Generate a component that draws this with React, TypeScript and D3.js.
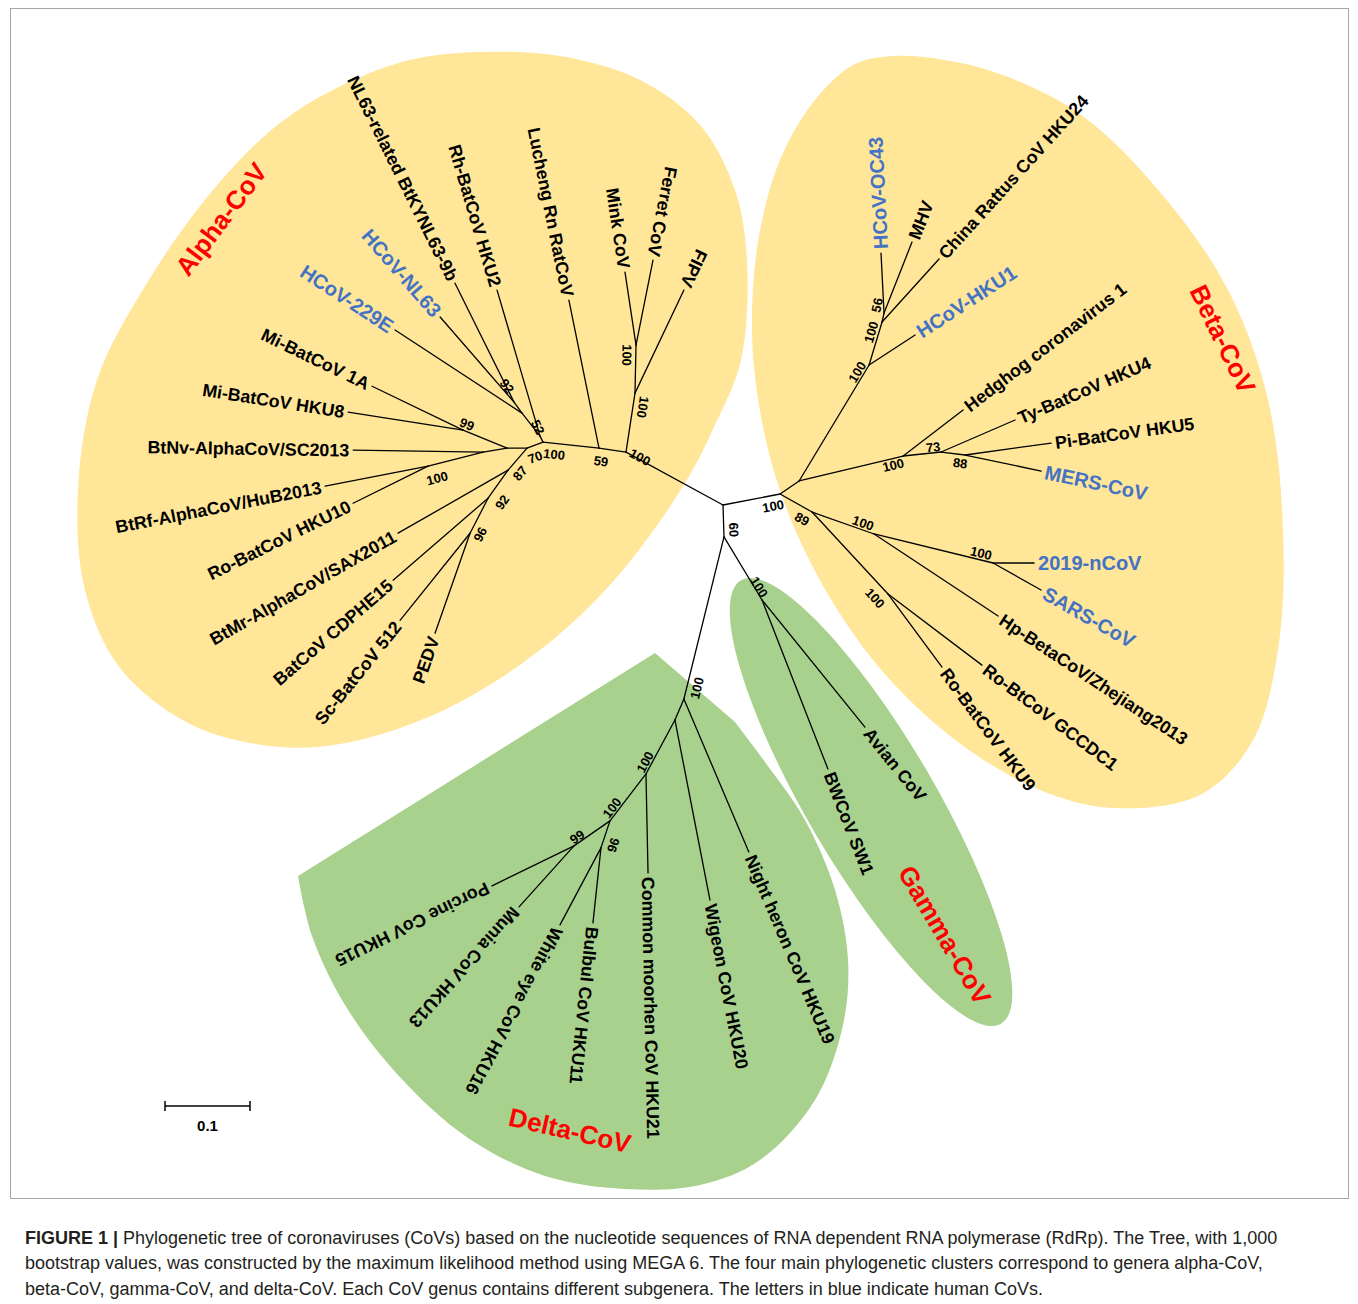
import React from "react";
import * as d3 from "d3";

// Unrooted tree: [node, parent, branch length (subst./site), branch angle (deg, screen)]
// Tip nodes carry the taxon name as id.
const branches: [string, string, number, number][] = [
  ["A1", "C1", 0.13, -151.4],
  ["F1", "A1", 0.0702, -81.3],
  ["FIPV", "F1", 0.1342, -64.6],
  ["F2", "F1", 0.0565, -88.8],
  ["Ferret CoV", "F2", 0.102, -78.7],
  ["Mink CoV", "F2", 0.0868, -98.6],
  ["N59", "A1", 0.0321, -171.6],
  ["Lucheng Rn RatCoV", "N59", 0.1776, -101.5],
  ["N100a", "N59", 0.0662, -173.9],
  ["N52", "N100a", 0.0079, -116.6],
  ["Rh-BatCoV HKU2", "N52", 0.1791, -106.4],
  ["Nx", "N52", 0.0344, -128.0],
  ["HCoV-229E", "Nx", 0.1785, -146.8],
  ["N92", "Nx", 0.016, -126],
  ["HCoV-NL63", "N92", 0.1326, -131],
  ["NL63-related BtKYNL63-9b", "N92", 0.1562, -116.4],
  ["N70", "N100a", 0.0201, 159.4],
  ["Nleft", "N70", 0.0235, 180],
  ["N99", "Nleft", 0.0559, -157.8],
  ["Mi-BatCoV 1A", "N99", 0.1189, -154.2],
  ["Mi-BatCoV HKU8", "N99", 0.1369, -171.1],
  ["Nnv", "Nleft", 0.0286, 170.5],
  ["BtNv-AlphaCoV/SC2013", "Nnv", 0.1529, -179.1],
  ["N100c", "Nnv", 0.0668, 165.7],
  ["BtRf-AlphaCoV/HuB2013", "N100c", 0.1234, 169.0],
  ["Ro-BatCoV HKU10", "N100c", 0.0984, 153.7],
  ["N87", "N70", 0.0342, 130.8],
  ["BtMr-AlphaCoV/SAX2011", "N87", 0.1492, 150.2],
  ["N92b", "N87", 0.0405, 125.5],
  ["BatCoV CDPHE15", "N92b", 0.1476, 139.2],
  ["N96", "N92b", 0.0464, 117.2],
  ["Sc-BatCoV 512", "N96", 0.1314, 128.8],
  ["PEDV", "N96", 0.1246, 109.3],

  ["B0", "C1", 0.0684, -10.9],
  ["B1", "B0", 0.0271, -34.4],
  ["Bup", "B1", 0.1594, -58.9],
  ["HCoV-HKU1", "Bup", 0.0646, -33.1],
  ["B100d", "Bup", 0.0528, -73.2],
  ["China Rattus CoV HKU24", "B100d", 0.1, -47.9],
  ["B56", "B100d", 0.0108, -77.5],
  ["HCoV-OC43", "B56", 0.0707, -92.9],
  ["MHV", "B56", 0.0898, -68.5],
  ["Bm", "B1", 0.1259, -13.5],
  ["Hedghog coronavirus 1", "Bm", 0.0889, -37.5],
  ["B73", "Bm", 0.0449, -6],
  ["Ty-BatCoV HKU4", "B73", 0.0948, -23.4],
  ["B88", "B73", 0.0285, 7.1],
  ["Pi-BatCoV HKU5", "B88", 0.1021, -7.9],
  ["MERS-CoV", "B88", 0.0914, 11.9],
  ["B89", "B0", 0.0432, 29.4],
  ["B100s", "B89", 0.0774, 19.5],
  ["Hp-BetaCoV/Zhejiang2013", "B100s", 0.1749, 33.5],
  ["B100n", "B100s", 0.1441, 13.7],
  ["2019-nCoV", "B100n", 0.0482, 0],
  ["SARS-CoV", "B100n", 0.0648, 29.4],
  ["B100r", "B89", 0.1315, 47.2],
  ["Ro-BtCoV GCCDC1", "B100r", 0.1386, 37.1],
  ["Ro-BatCoV HKU9", "B100r", 0.1068, 53.5],

  ["N60", "C1", 0.0376, 88.2],
  ["G0", "N60", 0.0866, 58.9],
  ["Avian CoV", "G0", 0.1924, 51],
  ["BWCoV SW1", "G0", 0.2134, 68.7],
  ["D0", "N60", 0.1964, 103.9],
  ["Night heron CoV HKU19", "D0", 0.1955, 67],
  ["D1", "D0", 0.0268, 113.2],
  ["Wigeon CoV HKU20", "D1", 0.2158, 79],
  ["D2", "D1", 0.0721, 118.2],
  ["Common moorhen CoV HKU21", "D2", 0.1165, 88.8],
  ["D3", "D2", 0.0696, 127.5],
  ["D99", "D3", 0.0515, 145.2],
  ["Porcine CoV HKU15", "D99", 0.1073, 154],
  ["Munia CoV HKU13", "D99", 0.0966, 132],
  ["D96", "D3", 0.0335, 108.4],
  ["White eye CoV HKU16", "D96", 0.1026, 118],
  ["Bulbul CoV HKU11", "D96", 0.0887, 96.1],
];

const humanCoVs = [
  "HCoV-229E",
  "HCoV-NL63",
  "HCoV-OC43",
  "HCoV-HKU1",
  "MERS-CoV",
  "2019-nCoV",
  "SARS-CoV",
];

// bootstrap support (1,000 replicates), by node
const bootstrap: [string, number][] = [
  ["A1", 100], ["F1", 100], ["F2", 100], ["N59", 59], ["N100a", 100],
  ["N52", 52], ["N92", 92], ["N70", 70], ["N99", 99], ["N100c", 100],
  ["N87", 87], ["N92b", 92], ["N96", 96],
  ["B0", 100], ["Bup", 100], ["B100d", 100], ["B56", 56], ["Bm", 100],
  ["B73", 73], ["B88", 88], ["B89", 89], ["B100s", 100], ["B100n", 100],
  ["B100r", 100],
  ["N60", 60], ["G0", 100],
  ["D0", 100], ["D2", 100], ["D3", 100], ["D99", 99], ["D96", 96],
];

const genera = ["Alpha-CoV", "Beta-CoV", "Gamma-CoV", "Delta-CoV"];
const scaleBarValue = 0.1;

const captionLines = [
  "Phylogenetic tree of coronaviruses (CoVs) based on the nucleotide sequences of RNA dependent RNA polymerase (RdRp). The Tree, with 1,000",
  "bootstrap values, was constructed by the maximum likelihood method using MEGA 6. The four main phylogenetic clusters correspond to genera alpha-CoV,",
  "beta-CoV, gamma-CoV, and delta-CoV. Each CoV genus contains different subgenera. The letters in blue indicate human CoVs.",
];

// ---- layout (pixels) ----
const W = 1358;
const H = 1304;
const ROOT_PX: [number, number] = [723, 505];
const PX_PER_TENTH = 85;
const FONT = "'Liberation Sans', Arial, Helvetica, sans-serif";
const YELLOW = "#FFE699";
const GREEN = "#A9D18E";
const BLUE = "#4472C4";
const RED = "#FF0000";

// label offsets (px) of bootstrap values from their node
const bootOffset: Record<string, [number, number]> = {
  A1: [14, 5], F1: [8, 14], F2: [-9, 10], N59: [2, 13], N100a: [11, 12],
  N52: [-2, -9], N92: [-7, -16], N70: [8, 9], N99: [4, -6], N100c: [9, 12],
  N87: [12, 3], N92b: [14, 4], N96: [10, 1],
  B0: [-7, 12], Bup: [-12, 7], B100d: [-11, 10], B56: [-7, -8], Bm: [-10, 9],
  B73: [-8, -5], B88: [-5, 8], B89: [-10, 7], B100s: [-11, -11],
  B100n: [-12, -10], B100r: [-13, 4],
  N60: [10, -7], G0: [-3, -13],
  D0: [13, -11], D2: [-1, -12], D3: [2, -13], D99: [3, -9], D96: [12, -3],
};

const genusLabel: Record<string, { x: number; y: number; r: number }> = {
  "Alpha-CoV": { x: 221, y: 219, r: -53 },
  "Beta-CoV": { x: 1223, y: 339, r: 64 },
  "Gamma-CoV": { x: 945, y: 935, r: 59.5 },
  "Delta-CoV": { x: 570, y: 1130, r: 13 },
};

const alphaOutline: [number, number][] = [
  [97, 380], [147, 283], [213, 190], [280, 123], [347, 83], [410, 60],
  [480, 52], [560, 56], [640, 80], [700, 125], [735, 190], [747, 262],
  [741, 360], [714, 427], [685, 483], [617, 577], [540, 650], [440, 712],
  [340, 744], [270, 746], [190, 724], [120, 668], [85, 590], [78, 490],
];

const betaOutline: [number, number][] = [
  [855, 64], [895, 56], [945, 60], [1000, 74], [1080, 114], [1160, 192],
  [1228, 290], [1268, 400], [1283, 530], [1278, 650], [1252, 742],
  [1200, 795], [1112, 808], [1040, 790], [962, 745], [892, 682], [842, 617],
  [802, 545], [776, 478], [759, 405], [752, 330], [758, 242], [780, 160],
  [815, 100],
];

const deltaApex: [number, number] = [655, 653];
const deltaOutline: [number, number][] = [
  [298, 876], [312, 936], [345, 1005], [398, 1075], [468, 1138], [545, 1176],
  [625, 1189], [700, 1185], [760, 1160], [815, 1100], [843, 1025],
  [848, 960], [835, 890], [805, 820], [765, 762], [735, 722],
];

const gammaEllipse = { cx: 871, cy: 802, rx: 257, ry: 64, r: 59.6 };

const norm90 = (a: number) => {
  while (a > 90) a -= 180;
  while (a <= -90) a += 180;
  return a;
};

export default function App() {
  const x = d3.scaleLinear().domain([0, scaleBarValue]).range([ROOT_PX[0], ROOT_PX[0] + PX_PER_TENTH]);
  const y = d3.scaleLinear().domain([0, scaleBarValue]).range([ROOT_PX[1], ROOT_PX[1] + PX_PER_TENTH]);

  const nodes: Record<string, { x: number; y: number; ang: number; parent?: string }> = {
    C1: { x: 0, y: 0, ang: 0 },
  };
  branches.forEach(([id, par, len, ang]) => {
    const p = nodes[par];
    const r = (ang * Math.PI) / 180;
    nodes[id] = { x: p.x + len * Math.cos(r), y: p.y + len * Math.sin(r), ang, parent: par };
  });
  const parents = new Set(branches.map((b) => b[1]));
  const inAlpha = (id: string) => {
    let cur: string | undefined = id;
    while (cur) {
      if (cur === "A1") return true;
      cur = nodes[cur].parent;
    }
    return false;
  };

  const closed = d3.line().curve(d3.curveCatmullRomClosed.alpha(0.5));
  const open = d3.line().curve(d3.curveCatmullRom.alpha(0.5));
  const deltaPath =
    `M${deltaApex[0]},${deltaApex[1]}` + (open(deltaOutline) || "").replace(/^M/, "L") + "Z";

  const tips = branches.filter((b) => !parents.has(b[0]));
  const barLen = x(scaleBarValue) - x(0);
  const bx = 165;
  const barY = 1106;

  return (
    <div style={{ position: "absolute", left: 0, top: 0 }}>
      <svg width={W} height={H} style={{ display: "block", background: "#fff" }} fontFamily={FONT}>
        <rect x={10.5} y={8.5} width={1338} height={1190} fill="none" stroke="#a6a6a6" strokeWidth={1} />

        <path d={closed(alphaOutline) || ""} fill={YELLOW} />
        <path d={closed(betaOutline) || ""} fill={YELLOW} />
        <path d={deltaPath} fill={GREEN} />
        <ellipse
          cx={gammaEllipse.cx}
          cy={gammaEllipse.cy}
          rx={gammaEllipse.rx}
          ry={gammaEllipse.ry}
          transform={`rotate(${gammaEllipse.r},${gammaEllipse.cx},${gammaEllipse.cy})`}
          fill={GREEN}
        />

        <g stroke="#000" strokeWidth={1.3} strokeLinecap="round">
          {branches.map(([id, par]) => (
            <line
              key={id}
              x1={x(nodes[par].x)}
              y1={y(nodes[par].y)}
              x2={x(nodes[id].x)}
              y2={y(nodes[id].y)}
            />
          ))}
        </g>

        <g fontWeight="bold">
          {tips.map(([id, , , ang]) => {
            const n = nodes[id];
            const r = (ang * Math.PI) / 180;
            const gap = 4;
            const px = x(n.x) + gap * Math.cos(r);
            const py = y(n.y) + gap * Math.sin(r);
            const inward = inAlpha(id);
            const human = humanCoVs.includes(id);
            return (
              <text
                key={id}
                transform={`translate(${px},${py}) rotate(${inward ? ang + 180 : ang})`}
                textAnchor={inward ? "end" : "start"}
                dy="0.36em"
                fontSize={human ? 20 : 17.8}
                fill={human ? BLUE : "#000"}
              >
                {id}
              </text>
            );
          })}
        </g>

        <g fontWeight="bold" fontSize={13} fill="#000">
          {bootstrap.map(([id, v]) => {
            const n = nodes[id];
            const off = bootOffset[id] || [0, 0];
            const rot = inAlpha(id) ? n.ang + 180 : norm90(n.ang);
            return (
              <text
                key={id}
                transform={`translate(${x(n.x) + off[0]},${y(n.y) + off[1]}) rotate(${rot})`}
                textAnchor="middle"
                dy="0.36em"
              >
                {v}
              </text>
            );
          })}
        </g>

        <g fontWeight="bold" fontSize={26} fill={RED}>
          {genera.map((g) => {
            const l = genusLabel[g];
            return (
              <text key={g} transform={`translate(${l.x},${l.y}) rotate(${l.r})`} textAnchor="middle" dy="0.36em">
                {g}
              </text>
            );
          })}
        </g>

        <g stroke="#000" strokeWidth={1.5}>
          <line x1={bx} x2={bx + barLen} y1={barY} y2={barY} />
          <line x1={bx} x2={bx} y1={barY - 5} y2={barY + 5} />
          <line x1={bx + barLen} x2={bx + barLen} y1={barY - 5} y2={barY + 5} />
        </g>
        <text x={bx + barLen / 2} y={barY + 25} textAnchor="middle" fontWeight="bold" fontSize={15}>
          {scaleBarValue}
        </text>

        <g fontSize={18} fill="#231f20">
          <text x={25} y={1244}>
            <tspan fontWeight="bold">FIGURE 1 | </tspan>
            <tspan>{captionLines[0]}</tspan>
          </text>
          <text x={25} y={1269}>{captionLines[1]}</text>
          <text x={25} y={1295}>{captionLines[2]}</text>
        </g>
      </svg>
    </div>
  );
}
